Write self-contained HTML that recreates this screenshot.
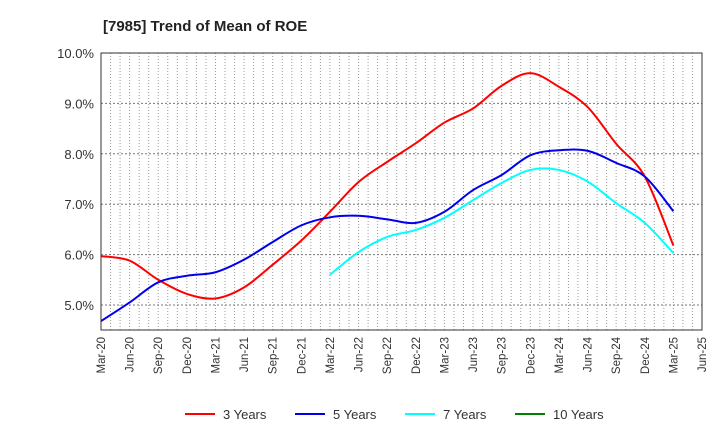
<!DOCTYPE html>
<html><head><meta charset="utf-8"><style>
body{margin:0;background:#fff;font-family:"Liberation Sans",sans-serif}
</style></head><body>
<svg id="c" width="720" height="440" xmlns="http://www.w3.org/2000/svg">
<text x="103" y="31" font-size="15" font-weight="bold" fill="#222">[7985]  Trend of Mean of ROE</text>
<g id="grid"></g><g id="series"></g><g id="axes"></g><g id="legend"></g>
</svg>
<script>
const xLabels=["Mar-20","Jun-20","Sep-20","Dec-20","Mar-21","Jun-21","Sep-21","Dec-21","Mar-22","Jun-22","Sep-22","Dec-22","Mar-23","Jun-23","Sep-23","Dec-23","Mar-24","Jun-24","Sep-24","Dec-24","Mar-25","Jun-25"];
const yTicks=[5,6,7,8,9,10];
const s3=[5.97,5.88,5.5,5.22,5.13,5.35,5.8,6.28,6.85,7.44,7.84,8.21,8.62,8.9,9.35,9.6,9.33,8.93,8.2,7.55,6.18];
const s5=[4.68,5.05,5.45,5.58,5.65,5.9,6.25,6.58,6.74,6.77,6.7,6.63,6.85,7.28,7.58,7.97,8.07,8.06,7.82,7.55,6.86];
const s7=[null,null,null,null,null,null,null,null,5.6,6.05,6.35,6.49,6.73,7.08,7.42,7.68,7.68,7.45,7.02,6.63,6.03];
const s10=[];
const NS="http://www.w3.org/2000/svg";
const L=101,R=702,T=53,B=330;
const X=i=>L+i*(R-L)/21;
const Y=v=>T+(10-v)*50.4;
function mk(t,a,p){const e=document.createElementNS(NS,t);for(const k in a)e.setAttribute(k,a[k]);p.appendChild(e);return e;}
const grid=document.getElementById('grid'),axes=document.getElementById('axes'),ser=document.getElementById('series'),leg=document.getElementById('legend');
for(let m=1;m<63;m++){const x=L+m*(R-L)/63;const l=mk('line',{x1:x,x2:x,y1:T,y2:B,stroke:'#999','stroke-dasharray':'1,2','stroke-width':1},grid);

}
yTicks.forEach(v=>{const y=Y(v);const l=mk('line',{x1:L,x2:R,y1:y,y2:y,stroke:'#777','stroke-dasharray':'2,2'},grid);


const t=mk('text',{x:L-7,y:y+5,'text-anchor':'end','font-size':13,fill:'#333'},axes);t.textContent=v.toFixed(1)+'%';

});
const fr=mk('rect',{x:L,y:T,width:R-L,height:B-T,fill:'none',stroke:'#333'},axes);


xLabels.forEach((s,i)=>{const x=X(i);const t=mk('text',{transform:`translate(${x+4},337) rotate(-90)`,'text-anchor':'end','font-size':11.5,fill:'#333'},axes);t.textContent=s;

});
function path(arr){const pts=[];arr.forEach((v,i)=>{if(v!=null)pts.push([X(i),Y(v)]);});if(pts.length<2)return '';
let d=`M${pts[0][0]},${pts[0][1]}`;for(let i=0;i<pts.length-1;i++){const p0=pts[i-1]||pts[i],p1=pts[i],p2=pts[i+1],p3=pts[i+2]||p2;
d+=`C${p1[0]+(p2[0]-p0[0])/6},${p1[1]+(p2[1]-p0[1])/6} ${p2[0]-(p3[0]-p1[0])/6},${p2[1]-(p3[1]-p1[1])/6} ${p2[0]},${p2[1]}`;}return d;}
const list=[[s3,'#ff0000','3 Years','series-3-years'],[s5,'#0000ee','5 Years','series-5-years'],[s7,'#00ffff','7 Years','series-7-years'],[s10,'#008000','10 Years','series-10-years']];
list.forEach((s,k)=>{const d=path(s[0]);if(d){const p=mk('path',{d:d,fill:'none',stroke:s[1],'stroke-width':2},ser);

}
const lx=185+k*110;const l=mk('line',{x1:lx,x2:lx+30,y1:414,y2:414,stroke:s[1],'stroke-width':2},leg);


const t=mk('text',{x:lx+38,y:419,'font-size':13,fill:'#333'},leg);t.textContent=s[2];

});
</script>
</body></html>
